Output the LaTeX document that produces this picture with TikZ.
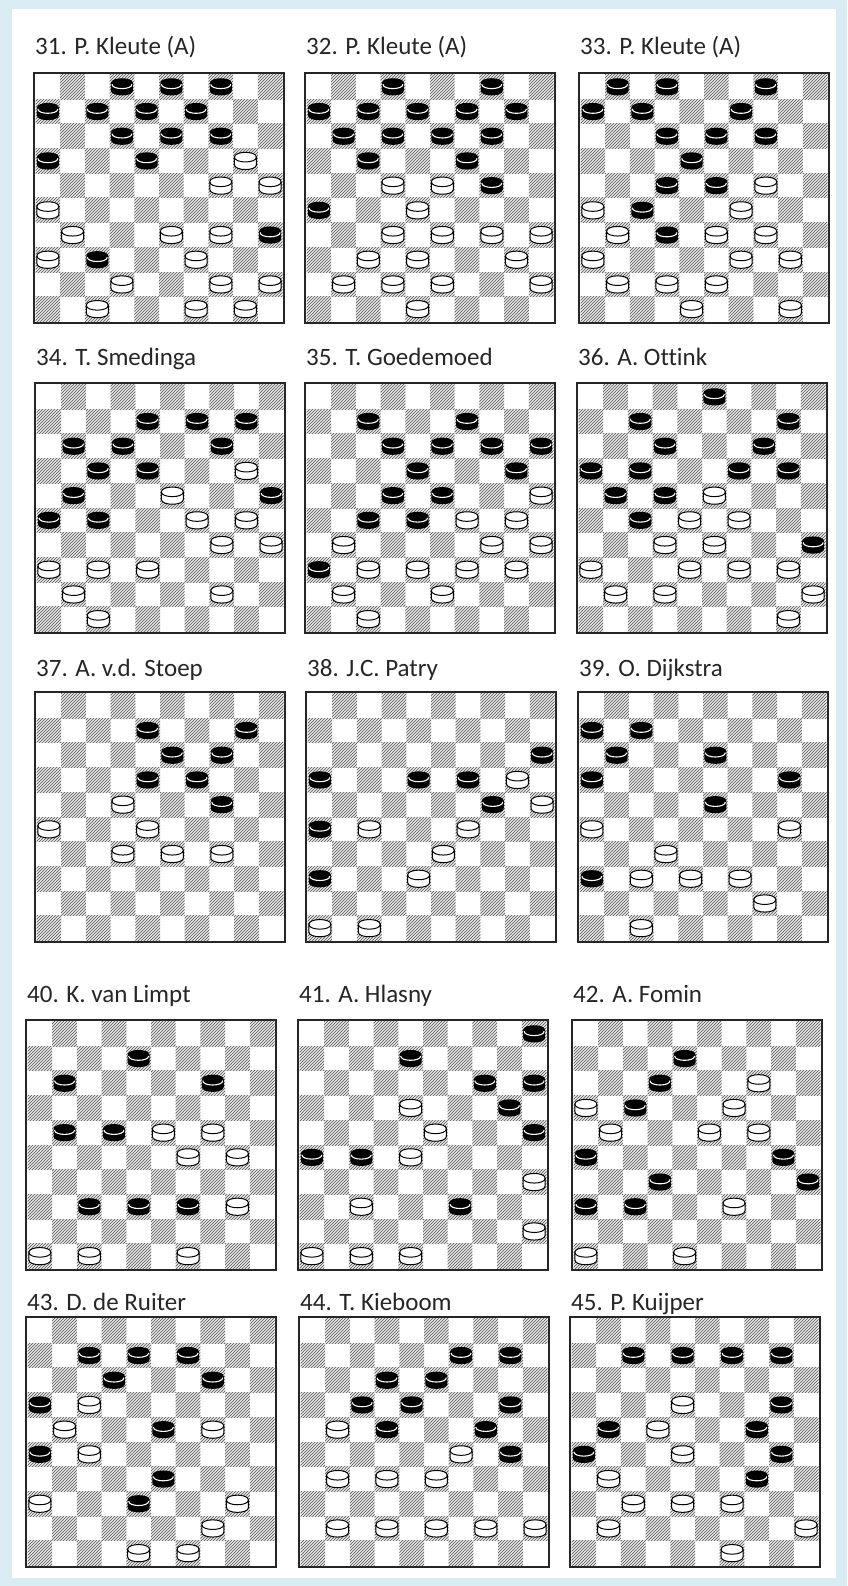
\documentclass[tikz,border=0pt]{standalone}
\usepackage{fontspec}
\setmainfont{Carlito}[Ligatures=NoCommon]
\usetikzlibrary{patterns}
\definecolor{bgblue}{RGB}{217,236,244}
\definecolor{hatchgray}{RGB}{110,110,110}
\pgfdeclarepatternformonly{dhatch}{\pgfqpoint{-1pt}{-1pt}}{\pgfqpoint{4pt}{4pt}}{\pgfqpoint{3pt}{3pt}}{%
  \pgfsetlinewidth{0.95pt}%
  \pgfpathmoveto{\pgfqpoint{0pt}{0pt}}%
  \pgfpathlineto{\pgfqpoint{3.1pt}{3.1pt}}%
  \pgfusepath{stroke}}
\tikzset{
  titletext/.style={anchor=base west, inner sep=0pt, font=\fontsize{25}{30}\selectfont, text=black!85},
  darksq/.style={pattern=dhatch, pattern color=hatchgray},
  frameline/.style={draw=black!85, line width=1.6},
  bpiece/.pic={
    \fill[black] (-11,-3.8) .. controls (-11,-10.2) and (11,-10.2) .. (11,-3.8) -- (11,3.8) .. controls (11,10.2) and (-11,10.2) .. (-11,3.8) -- cycle;
    \draw[white, line width=1.1] (-10,-2.6) .. controls (-10,3.2) and (10,3.2) .. (10,-2.6);
  },
  wpiece/.pic={
    \draw[fill=white, line width=1] (-11,-3.8) .. controls (-11,-10.2) and (11,-10.2) .. (11,-3.8) -- (11,3.8) .. controls (11,10.2) and (-11,10.2) .. (-11,3.8) -- cycle;
    \draw[line width=1] (-11,-3.8) .. controls (-11,2.6) and (11,2.6) .. (11,-3.8);
  }
}
\newcommand\SqS{24.7}
\newcommand\DBoard[7]{%
 \begin{scope}[shift={(#2,#3)}]
  \node[titletext] (t#1) at (1,-#7) {#4};
  \foreach \r in {1,...,10}{\foreach \k in {0,...,4}{%
    \pgfmathsetmacro\xa{1.5+(2*\k+mod(\r,2))*\SqS}%
    \pgfmathsetmacro\ya{1.5+(\r-1)*\SqS}%
    \fill[darksq] (\xa,\ya) rectangle ++(\SqS,\SqS);}}
  \draw[frameline] (0,0) rectangle (250,250);
  \foreach \c/\r in {#5}{\pic at ({1.5+(\c-0.5)*\SqS},{1.5+(\r-0.5)*\SqS}) {bpiece};}
  \foreach \c/\r in {#6}{\pic at ({1.5+(\c-0.5)*\SqS},{1.5+(\r-0.5)*\SqS}) {wpiece};}
 \end{scope}}
\begin{document}
\begin{tikzpicture}[x=1pt,y=-1pt]
\useasboundingbox (0,0) rectangle (847,1586);
\fill[bgblue] (0,0) rectangle (847,1586);
\fill[white] (12,9) rectangle (836,1578);
% row 1
\DBoard{31}{34}{73}{31. P. Kleute (A)}
 {4/1,6/1,8/1,1/2,3/2,5/2,7/2,4/3,6/3,8/3,1/4,5/4,10/7,3/8}
 {9/4,8/5,10/5,1/6,2/7,6/7,8/7,1/8,7/8,4/9,8/9,10/9,3/10,7/10,9/10}{18}
\DBoard{32}{305}{73}{32. P. Kleute (A)}
 {4/1,8/1,1/2,3/2,5/2,7/2,9/2,2/3,4/3,6/3,8/3,3/4,7/4,8/5,1/6}
 {4/5,6/5,5/6,4/7,6/7,8/7,10/7,3/8,5/8,9/8,2/9,4/9,6/9,10/9,5/10}{18}
\DBoard{33}{579}{73}{33. P. Kleute (A)}
 {2/1,4/1,8/1,1/2,3/2,7/2,4/3,6/3,8/3,5/4,4/5,6/5,3/6,4/7}
 {8/5,1/6,7/6,2/7,6/7,8/7,1/8,7/8,9/8,2/9,4/9,6/9,5/10,9/10}{18}
% row 2
\DBoard{34}{35}{383}{34. T. Smedinga}
 {5/2,7/2,9/2,2/3,4/3,8/3,3/4,5/4,2/5,10/5,1/6,3/6}
 {9/4,6/5,7/6,9/6,8/7,10/7,1/8,3/8,5/8,2/9,8/9,3/10}{18}
\DBoard{35}{305}{383}{35. T. Goedemoed}
 {3/2,7/2,4/3,6/3,8/3,10/3,5/4,9/4,4/5,6/5,3/6,5/6,1/8}
 {10/5,7/6,9/6,2/7,8/7,10/7,3/8,5/8,7/8,9/8,2/9,6/9,3/10}{18}
\DBoard{36}{577}{383}{36. A. Ottink}
 {6/1,3/2,9/2,4/3,8/3,1/4,3/4,7/4,9/4,2/5,4/5,3/6,10/7}
 {6/5,5/6,7/6,4/7,6/7,1/8,5/8,7/8,9/8,2/9,4/9,10/9,9/10}{18}
% row 3
\DBoard{37}{35}{692}{37. A. v.d. Stoep}
 {5/2,9/2,6/3,8/3,5/4,7/4,8/5}
 {4/5,1/6,5/6,4/7,6/7,8/7}{16}
\DBoard{38}{306}{692}{38. J.C. Patry}
 {10/3,1/4,5/4,7/4,8/5,1/6,1/8}
 {9/4,10/5,3/6,7/6,6/7,5/8,1/10,3/10}{16}
\DBoard{39}{578}{692}{39. O. Dijkstra}
 {1/2,3/2,2/3,6/3,1/4,9/4,6/5,1/8}
 {1/6,9/6,4/7,3/8,5/8,7/8,8/9,3/10}{16}
% row 4
\DBoard{40}{26}{1020}{40. K. van Limpt}
 {5/2,2/3,8/3,2/5,4/5,3/8,5/8,7/8}
 {6/5,8/5,7/6,9/6,9/8,1/10,3/10,7/10}{18}
\DBoard{41}{298}{1020}{41. A. Hlasny}
 {10/1,5/2,8/3,10/3,9/4,10/5,1/6,3/6,7/8}
 {5/4,6/5,5/6,10/7,3/8,10/9,1/10,3/10,5/10}{18}
\DBoard{42}{572}{1020}{42. A. Fomin}
 {5/2,4/3,3/4,1/6,9/6,4/7,10/7,1/8,3/8}
 {8/3,1/4,7/4,2/5,6/5,8/5,7/8,1/10,5/10}{18}
% row 5
\DBoard{43}{26}{1317}{43. D. de Ruiter}
 {3/2,5/2,7/2,4/3,8/3,1/4,6/5,1/6,6/7,5/8}
 {3/4,2/5,8/5,3/6,1/8,9/8,8/9,5/10,7/10}{7}
\DBoard{44}{299}{1317}{44. T. Kieboom}
 {7/2,9/2,4/3,6/3,3/4,5/4,9/4,4/5,8/5,9/6}
 {2/5,7/6,2/7,4/7,6/7,2/9,4/9,6/9,8/9,10/9}{7}
\DBoard{45}{570}{1317}{45. P. Kuijper}
 {3/2,5/2,7/2,9/2,9/4,2/5,8/5,1/6,9/6,8/7}
 {5/4,4/5,5/6,2/7,3/8,5/8,7/8,2/9,10/9,7/10}{7}
\end{tikzpicture}
\end{document}
